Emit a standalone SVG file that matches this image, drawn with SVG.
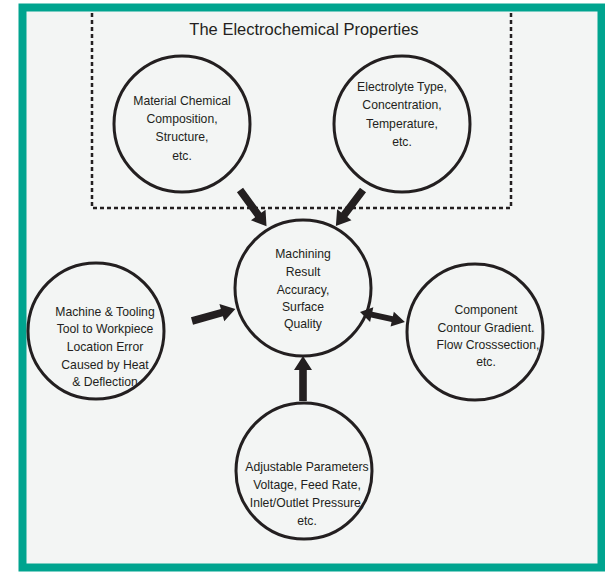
<svg xmlns="http://www.w3.org/2000/svg" width="605" height="572" viewBox="0 0 605 572">
<style>
.node circle{fill:none;stroke:#231f20;stroke-width:3}
text{font-family:"Liberation Sans",Arial,sans-serif;font-size:12.2px;fill:#231f20;text-anchor:middle}
.title{font-size:16.5px}
.arr{fill:#231f20}
</style>
<defs>
<path id="a1" d="M0,-3.8 L31,-3.8 L31,-9 L45,0 L31,9 L31,3.8 L0,3.8 Z"/>
<path id="a2" d="M0,0 L12,-7.5 L12,-3 L33,-3 L33,-7.5 L46,0 L33,7.5 L33,3 L12,3 L12,7.5 Z"/>
</defs>
<rect x="0" y="0" width="605" height="572" fill="#ffffff"/>
<rect x="22.5" y="7.5" width="579" height="560" fill="#f3f5f4" stroke="#00a48f" stroke-width="8"/>
<g id="group-box">
<path d="M92,13 L92,208 L511,208 L511,13" fill="none" stroke="#231f20" stroke-width="2.5" stroke-dasharray="4,3"/>
<text class="title" x="304" y="35">The Electrochemical Properties</text>
</g>
<g id="connectors" class="arr">
<use href="#a1" transform="translate(240,190) rotate(53.9)"/>
<use href="#a1" transform="translate(363,190) rotate(127.1)"/>
<use href="#a1" transform="translate(192,321) rotate(-15.6)"/>
<use href="#a1" transform="translate(303,401) rotate(-90)"/>
<use href="#a2" transform="translate(360,312) rotate(12.5)"/>
</g>
<g id="material" class="node">
<circle cx="182" cy="124" r="68"/>
<text x="182" y="105">Material Chemical</text>
<text x="182" y="123">Composition,</text>
<text x="182" y="141">Structure,</text>
<text x="182" y="160">etc.</text>
</g>
<g id="electrolyte" class="node">
<circle cx="402" cy="124" r="68"/>
<text x="402" y="91">Electrolyte Type,</text>
<text x="402" y="109">Concentration,</text>
<text x="402" y="128">Temperature,</text>
<text x="402" y="146">etc.</text>
</g>
<g id="result" class="node">
<circle cx="303" cy="288" r="68"/>
<text x="303" y="258">Machining</text>
<text x="303" y="276">Result</text>
<text x="303" y="294">Accuracy,</text>
<text x="303" y="311">Surface</text>
<text x="303" y="328">Quality</text>
</g>
<g id="machine" class="node">
<circle cx="96" cy="331" r="68"/>
<text x="105" y="316">Machine &amp; Tooling</text>
<text x="105" y="333">Tool to Workpiece</text>
<text x="105" y="351">Location Error</text>
<text x="105" y="369">Caused by Heat</text>
<text x="105" y="386">&amp; Deflection</text>
</g>
<g id="component" class="node">
<circle cx="475" cy="332" r="68"/>
<text x="486" y="314">Component</text>
<text x="486" y="332">Contour Gradient.</text>
<text x="488" y="349">Flow Crosssection,</text>
<text x="486" y="366">etc.</text>
</g>
<g id="adjustable" class="node">
<circle cx="304" cy="471" r="68"/>
<text x="307" y="471">Adjustable Parameters</text>
<text x="307" y="489">Voltage, Feed Rate,</text>
<text x="307" y="507">Inlet/Outlet Pressure,</text>
<text x="307" y="525">etc.</text>
</g>
</svg>
